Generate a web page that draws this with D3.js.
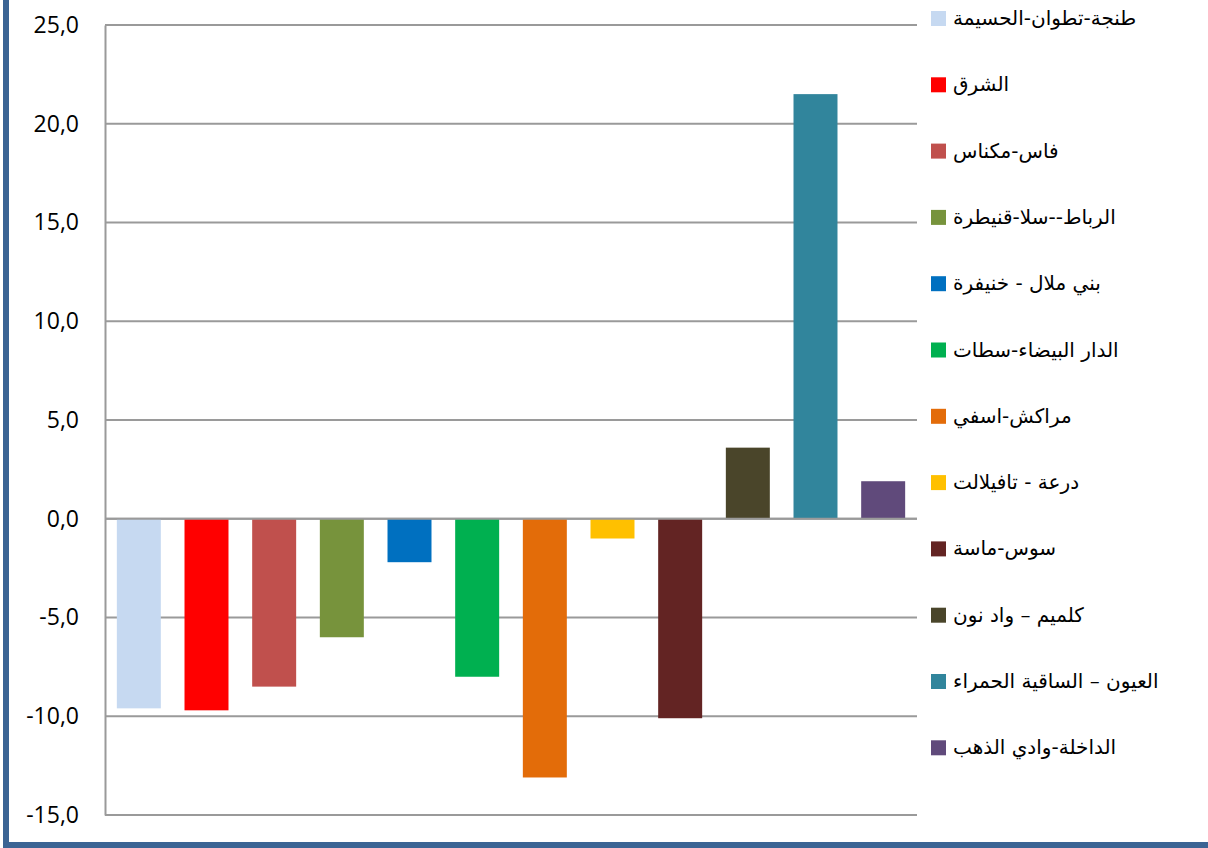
<!DOCTYPE html>
<html>
<head>
<meta charset="utf-8">
<script src="https://cdn.jsdelivr.net/npm/d3@7"></script>
<style>
  html, body { margin: 0; padding: 0; background: #fff; }
  svg { display: block; }
</style>
</head>
<body>
<svg id="chart" width="1208" height="848"></svg>
<script>
// regions (legend order) and the change values
const regions = [
  'طنجة-تطوان-الحسيمة',
  'الشرق',
  'فاس-مكناس',
  'الرباط--سلا-قنيطرة',
  'بني ملال - خنيفرة',
  'الدار البيضاء-سطات',
  'مراكش-اسفي',
  'درعة - تافيلالت',
  'سوس-ماسة',
  'كلميم – واد نون',
  'العيون – الساقية الحمراء',
  'الداخلة-وادي الذهب'
];
const values = [-9.6, -9.7, -8.5, -6.0, -2.2, -8.0, -13.1, -1.0, -10.1, 3.6, 21.5, 1.9];
const colors = ['#c6d9f1', '#ff0000', '#c0504d', '#77933c', '#0070c0', '#00b050',
  '#e36c09', '#ffc000', '#632423', '#4a452a', '#31859c', '#604a7b'];
const yTicks = [-15, -10, -5, 0, 5, 10, 15, 20, 25];

const svg = d3.select('#chart');
const plot = { left: 105, right: 917, top: 25, bottom: 815 };

const x = d3.scaleBand()
  .domain(regions)
  .range([plot.left, plot.right])
  .paddingInner(0.35)
  .paddingOuter(0.175);

const y = d3.scaleLinear()
  .domain([-15, 25])
  .range([plot.bottom, plot.top]);

// outer frame: only its left and bottom edges show in the picture
svg.append('rect').attr('x', 6).attr('y', -20).attr('width', 1240).attr('height', 865)
  .attr('fill', 'none').attr('stroke', '#3b6494').attr('stroke-width', 6);

// gridlines
svg.append('g')
  .selectAll('line')
  .data(yTicks)
  .join('line')
  .attr('x1', plot.left).attr('x2', plot.right)
  .attr('y1', d => y(d)).attr('y2', d => y(d))
  .attr('stroke', '#9a9a9a')
  .attr('stroke-width', 2);

// bars
svg.append('g')
  .selectAll('rect')
  .data(values)
  .join('rect')
  .attr('x', (d, i) => x(regions[i]))
  .attr('width', x.bandwidth())
  .attr('y', d => y(Math.max(0, d)))
  .attr('height', d => Math.abs(y(d) - y(0)))
  .attr('fill', (d, i) => colors[i]);

// zero line on top of the bars
svg.append('line')
  .attr('x1', plot.left).attr('x2', plot.right)
  .attr('y1', y(0)).attr('y2', y(0))
  .attr('stroke', '#9a9a9a').attr('stroke-width', 2);

// y axis, comma decimals and a plain hyphen for negatives
const yAxis = d3.axisLeft(y)
  .tickValues(yTicks)
  .tickSize(0)
  .tickPadding(26)
  .tickFormat(d => d.toFixed(1).replace('.', ','));

const ga = svg.append('g')
  .attr('transform', `translate(${plot.left},0)`)
  .call(yAxis);
ga.select('.domain').attr('stroke', '#9a9a9a').attr('stroke-width', 2);
ga.selectAll('text')
  .attr('font-family', 'Open Sans, Liberation Sans, sans-serif')
  .attr('font-size', 23)
  .attr('fill', '#000');

// legend
const legend = svg.append('g')
  .selectAll('g')
  .data(regions)
  .join('g')
  .attr('transform', (d, i) => `translate(931, ${18 + i * 66.3})`);

legend.append('rect')
  .attr('x', 0).attr('y', -7)
  .attr('width', 15).attr('height', 15)
  .attr('fill', (d, i) => colors[i]);

legend.append('text')
  .attr('x', 22)
  .attr('dy', '0.35em')
  .attr('font-family', 'DejaVu Sans, sans-serif')
  .attr('font-size', 20)
  .attr('fill', '#000')
  .text(d => d);
</script>
</body>
</html>
